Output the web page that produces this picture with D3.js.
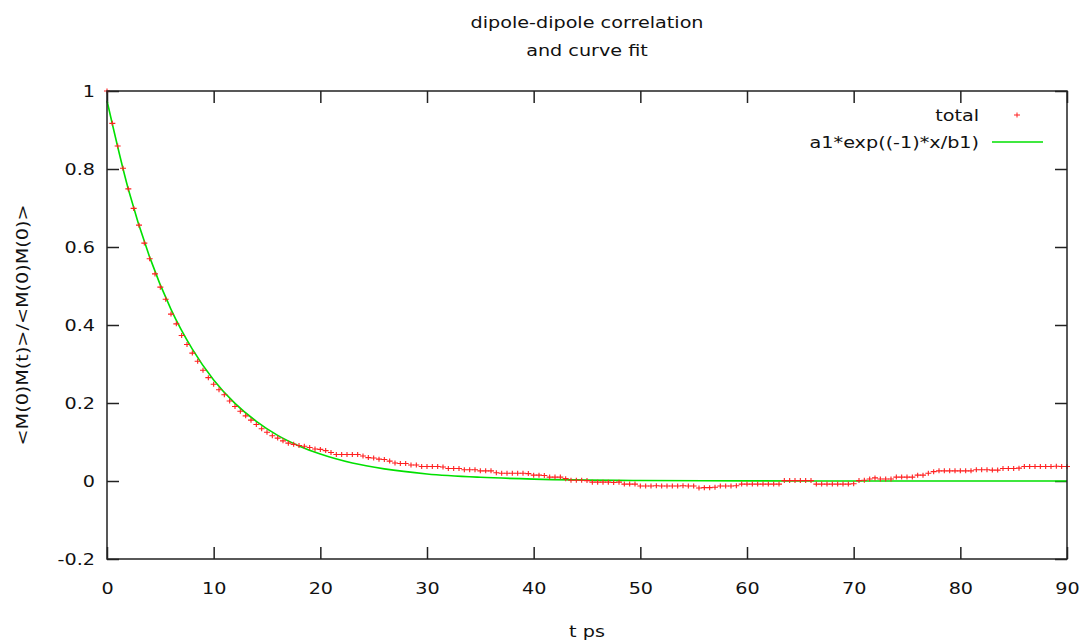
<!DOCTYPE html>
<html>
<head>
<meta charset="utf-8">
<script src="https://cdn.jsdelivr.net/npm/d3@7"></script>
<style>
  body { margin: 0; background: #fff; }
  text { font-family: "DejaVu Sans", sans-serif; fill: #111; }
</style>
</head>
<body>
<div id="chart"></div>
<script>
// correlation samples, one every 0.5 ps from 0 to 90
const timeStep = 0.5;
const totalValues = [
  1.000, 0.917, 0.859, 0.802, 0.749, 0.699, 0.656, 0.610, 0.570, 0.531,
  0.497, 0.466, 0.428, 0.403, 0.373, 0.350, 0.328, 0.307, 0.284, 0.265,
  0.248, 0.234, 0.221, 0.205, 0.191, 0.179, 0.167, 0.156, 0.145, 0.134,
  0.125, 0.116, 0.110, 0.103, 0.097, 0.094, 0.091, 0.089, 0.086, 0.082,
  0.081, 0.078, 0.073, 0.068, 0.068, 0.068, 0.068, 0.068, 0.064, 0.060,
  0.059, 0.056, 0.055, 0.051, 0.046, 0.045, 0.045, 0.041, 0.041, 0.037,
  0.037, 0.037, 0.037, 0.036, 0.032, 0.032, 0.032, 0.029, 0.029, 0.029,
  0.026, 0.026, 0.026, 0.021, 0.020, 0.020, 0.020, 0.020, 0.020, 0.019,
  0.015, 0.015, 0.014, 0.010, 0.010, 0.010, 0.006, 0.002, 0.002, 0.002,
  0.001, -0.003, -0.003, -0.003, -0.003, -0.004, -0.003, -0.008, -0.008, -0.008,
  -0.013, -0.013, -0.013, -0.012, -0.013, -0.013, -0.013, -0.013, -0.012, -0.013,
  -0.013, -0.018, -0.017, -0.017, -0.016, -0.013, -0.013, -0.013, -0.012, -0.008,
  -0.008, -0.008, -0.008, -0.008, -0.008, -0.008, -0.008, 0.001, 0.001, 0.001,
  0.001, 0.001, 0.001, -0.008, -0.008, -0.008, -0.008, -0.008, -0.008, -0.008,
  -0.007, 0.001, 0.002, 0.005, 0.008, 0.005, 0.005, 0.005, 0.010, 0.010,
  0.010, 0.010, 0.015, 0.015, 0.020, 0.024, 0.026, 0.026, 0.026, 0.026,
  0.026, 0.026, 0.026, 0.029, 0.029, 0.029, 0.028, 0.028, 0.032, 0.032,
  0.032, 0.033, 0.037, 0.037, 0.037, 0.037, 0.037, 0.037, 0.038, 0.037,
  0.037
];

// fitted curve a1*exp(-x/b1)
const fitTimes  = [0, 2, 4, 6, 8, 10, 12, 14, 16, 18, 20, 23, 26, 30, 35, 40, 50, 60, 70, 90];
const fitValues = [0.975, 0.748, 0.574, 0.440, 0.338, 0.259, 0.199, 0.153, 0.117, 0.090,
                   0.069, 0.046, 0.031, 0.018, 0.0095, 0.0049, 0.0013, 0.0003, 0.0001, 0.0];

const xTicks = [0, 10, 20, 30, 40, 50, 60, 70, 80, 90];
const yTicks = [-0.2, 0, 0.2, 0.4, 0.6, 0.8, 1];
const titleLines = ["dipole-dipole correlation", "and curve fit"];
const seriesNames = ["total", "a1*exp((-1)*x/b1)"];

const dim = { width: 1086, height: 644 };
const margin = { top: 91, right: 19, bottom: 85, left: 107 };
const w = dim.width - margin.left - margin.right;
const h = dim.height - margin.top - margin.bottom;
const stretch = 1.2; // the original font is wide

const svg = d3.select("#chart").append("svg")
  .attr("width", dim.width)
  .attr("height", dim.height);

const g = svg.append("g").attr("transform", `translate(${margin.left},${margin.top})`);

const x = d3.scaleLinear().domain([0, 90]).range([0, w]);
const y = d3.scaleLinear().domain([-0.2, 1]).range([h, 0]);

const fmt = d => String(+d.toFixed(1));

// put a text at (tx,ty) and widen it
function label(parent, tx, ty, str, anchor, rot) {
  return parent.append("text")
    .attr("transform", `translate(${tx},${ty})${rot ? ` rotate(${rot})` : ""} scale(${stretch},1)`)
    .attr("text-anchor", anchor)
    .attr("font-size", 16)
    .text(str);
}

// axes, ticks drawn inwards like gnuplot
const axisStyle = sel => {
  sel.select(".domain").remove();
  sel.selectAll(".tick line").attr("stroke", "#222").attr("stroke-width", 1.5);
  sel.selectAll(".tick text")
    .attr("font-size", 16).attr("fill", "#111")
    .attr("transform", function() {
      const tx = +this.getAttribute("x") || 0;
      return `translate(${tx},0) scale(${stretch},1)`;
    })
    .attr("x", 0);
};

g.append("g")
  .attr("transform", `translate(0,${h})`)
  .call(d3.axisBottom(x).tickValues(xTicks).tickFormat(fmt).tickSizeInner(-12).tickSizeOuter(0).tickPadding(24))
  .call(axisStyle);

g.append("g")
  .call(d3.axisLeft(y).tickValues(yTicks).tickFormat(fmt).tickSizeInner(-12).tickSizeOuter(0).tickPadding(12))
  .call(axisStyle);

g.append("g")
  .call(d3.axisTop(x).tickValues(xTicks).tickFormat("").tickSizeInner(-12).tickSizeOuter(0))
  .call(axisStyle);

g.append("g")
  .attr("transform", `translate(${w},0)`)
  .call(d3.axisRight(y).tickValues(yTicks).tickFormat("").tickSizeInner(-12).tickSizeOuter(0))
  .call(axisStyle);

// fitted curve
const fitData = fitTimes.map((t, i) => [t, fitValues[i]]);
g.append("path")
  .datum(fitData)
  .attr("fill", "none")
  .attr("stroke", "#00e000")
  .attr("stroke-width", 1.6)
  .attr("d", d3.line().x(d => x(d[0])).y(d => y(d[1])).curve(d3.curveMonotoneX));

// data points as small red crosses
const cross = "M-3,0H3M0,-2.5V2.5";
g.append("g")
  .selectAll("path")
  .data(totalValues)
  .join("path")
  .attr("transform", (d, i) => `translate(${x(i * timeStep)},${y(d)})`)
  .attr("d", cross)
  .attr("stroke", "#ff2020")
  .attr("stroke-width", 1.1);

// frame
g.append("rect")
  .attr("width", w).attr("height", h)
  .attr("fill", "none")
  .attr("stroke", "#222")
  .attr("stroke-width", 1.5);

// title
const cx = margin.left + w / 2;
titleLines.forEach((t, i) => label(svg, cx, 28 + i * 28, t, "middle"));

// axis labels
label(svg, cx, 637, "t ps", "middle");
label(svg, 28, margin.top + h / 2, "<M(0)M(t)>/<M(0)M(0)>", "middle", -90);

// legend
const legend = g.append("g");
label(legend, 872, 30, seriesNames[0], "end");
legend.append("path")
  .attr("transform", "translate(910,24)")
  .attr("d", cross)
  .attr("stroke", "#ff2020");
label(legend, 872, 57, seriesNames[1], "end");
legend.append("line")
  .attr("x1", 885).attr("x2", 936)
  .attr("y1", 51).attr("y2", 51)
  .attr("stroke", "#00e000").attr("stroke-width", 1.6);
</script>
</body>
</html>
